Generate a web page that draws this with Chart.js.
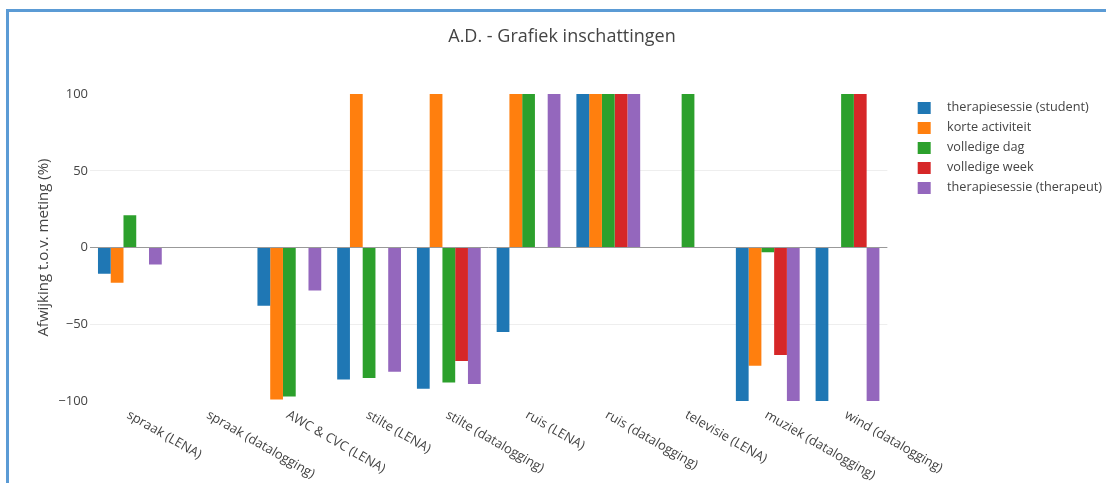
<!DOCTYPE html>
<html>
<head>
<meta charset="utf-8">
<script src="https://cdn.jsdelivr.net/npm/chart.js@4.4.1/dist/chart.umd.min.js"></script>
<style>
  html, body { margin: 0; padding: 0; background: #fff; overflow: hidden; }
  #frame { position: absolute; left: 6px; top: 9px; width: 1200px; height: 600px;
           border-left: 3px solid #5b9bd5; border-top: 3px solid #5b9bd5; }
  #c { position: absolute; left: 0; top: 0; }
</style>
</head>
<body>
<div id="frame"></div>
<canvas id="c" width="1106" height="483"></canvas>
<script>
const title = 'A.D. - Grafiek inschattingen';
const yTitle = 'Afwijking t.o.v. meting (%)';
const categories = ['spraak (LENA)', 'spraak (datalogging)', 'AWC & CVC (LENA)', 'stilte (LENA)',
  'stilte (datalogging)', 'ruis (LENA)', 'ruis (datalogging)', 'televisie (LENA)',
  'muziek (datalogging)', 'wind (datalogging)'];
const seriesNames = ['therapiesessie (student)', 'korte activiteit', 'volledige dag',
  'volledige week', 'therapiesessie (therapeut)'];
const therapiesessieStudent = [-17, null, -38, -86, -92, -55, 100, null, -100, -100];
const korteActiviteit = [-23, null, -99, 100, 100, 100, 100, null, -77, null];
const volledigeDag = [21, null, -97, -85, -88, 100, 100, 100, -3, 100];
const volledigeWeek = [null, null, null, null, -74, null, 100, null, -70, 100];
const therapiesessieTherapeut = [-11, null, -28, -81, -89, 100, 100, null, -100, -100];
const yTickValues = [-100, -50, 0, 50, 100];
const colors = ['#1f77b4', '#ff7f0e', '#2ca02c', '#d62728', '#9467bd'];

const seriesValues = [therapiesessieStudent, korteActiviteit, volledigeDag, volledigeWeek, therapiesessieTherapeut];
const FONT = '"Open Sans", "Noto Sans", sans-serif';
const TXT = '#444';

// legend swatch: transparent lead-in, then the colored square
function swatch(color) {
  const c = document.createElement('canvas');
  c.width = 46; c.height = 12;
  const g = c.getContext('2d');
  g.fillStyle = color;
  g.fillRect(23, 0, 13, 12);
  return c;
}
const swatches = colors.map(swatch);

const xLabelPlugin = {
  id: 'xLabels',
  afterDraw(chart) {
    const xs = chart.scales.x;
    const ctx = chart.ctx;
    ctx.save();
    ctx.font = '13px ' + FONT;
    ctx.fillStyle = TXT;
    ctx.textAlign = 'left';
    ctx.textBaseline = 'middle';
    chart.data.labels.forEach((lab, i) => {
      const x = xs.getPixelForTick(i);
      ctx.save();
      ctx.translate(x - 2, xs.top + 13);
      ctx.rotate(Math.PI / 6);
      ctx.fillText(lab, 0, 0);
      ctx.restore();
    });
    ctx.restore();
  }
};

new Chart(document.getElementById('c'), {
  type: 'bar',
  data: {
    labels: categories,
    datasets: seriesNames.map((name, i) => ({
      label: name,
      data: seriesValues[i],
      backgroundColor: colors[i],
      borderWidth: 0,
      categoryPercentage: 0.8,
      barPercentage: 1.0
    }))
  },
  options: {
    responsive: false,
    animation: false,
    devicePixelRatio: 1,
    layout: { padding: { left: 12, right: -6, top: 0, bottom: 0 } },
    plugins: {
      title: {
        display: true, text: title, color: TXT,
        font: { family: FONT, size: 18, weight: 'normal' },
        padding: { top: 26, bottom: 46.5 }
      },
      legend: {
        position: 'right', align: 'start', fullSize: false,
        labels: {
          usePointStyle: true, pointStyleWidth: 46, padding: 7.3, color: TXT,
          font: { family: FONT, size: 12.7 },
          generateLabels(chart) {
            const items = Chart.defaults.plugins.legend.labels.generateLabels(chart);
            items.forEach((it, i) => { it.pointStyle = swatches[i]; });
            return items;
          }
        }
      },
      tooltip: { enabled: false }
    },
    scales: {
      x: {
        type: 'category',
        grid: { display: false, drawTicks: false },
        border: { display: false },
        ticks: { display: false },
        afterFit(s) { s.height = 82; }
      },
      y: {
        min: -100, max: 100,
        afterBuildTicks(s) { s.ticks = yTickValues.map(v => ({ value: v })); },
        grid: {
          drawTicks: false,
          color: c => c.tick && c.tick.value === 0 ? '#999' : (Math.abs(c.tick ? c.tick.value : 0) === 100 ? 'rgba(0,0,0,0)' : '#eee'),
          lineWidth: 1
        },
        border: { display: false },
        ticks: {
          padding: 2, color: TXT, font: { family: FONT, size: 13 },
          callback: v => String(v).replace('-', '\u2212')
        },
        title: {
          display: true, text: yTitle, color: TXT,
          font: { family: FONT, size: 15 }, padding: { top: 23, bottom: 0 }
        },
        afterFit(s) { s.width = 78; }
      }
    }
  },
  plugins: [xLabelPlugin]
});
</script>
</body>
</html>
